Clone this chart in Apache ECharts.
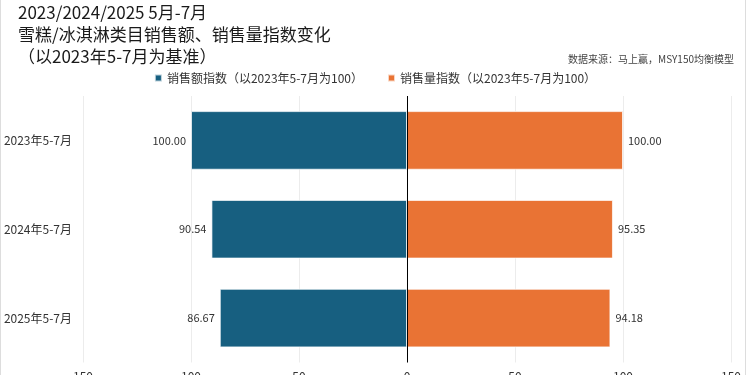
<!DOCTYPE html>
<html><head><meta charset="utf-8">
<script src="https://cdn.jsdelivr.net/npm/echarts@6/dist/echarts.min.js"></script>
<style>html,body{margin:0;padding:0;background:#fff;}#c{width:750px;height:375px;}</style>
</head><body><div id="c"></div>
<script>
const categories = ['2023年5-7月', '2024年5-7月', '2025年5-7月'];
const amountIndex = [100.00, 90.54, 86.67];
const volumeIndex = [100.00, 95.35, 94.18];
const xTicks = { min: -150, max: 150, interval: 50 };
const seriesNames = ['销售额指数（以2023年5-7月为100）', '销售量指数（以2023年5-7月为100）'];

const font = '"Noto Sans CJK SC", sans-serif';
const chart = echarts.init(document.getElementById('c'));
chart.setOption({
  animation: false,
  textStyle: { fontFamily: font },
  title: [
    { text: '2023/2024/2025 5月-7月\n雪糕/冰淇淋类目销售额、销售量指数变化\n（以2023年5-7月为基准）',
      left: 13, top: -4,
      textStyle: { fontSize: 17, fontWeight: 'normal', color: '#1a1a1a', lineHeight: 22.4, fontFamily: font } },
    { text: '数据来源：马上赢，MSY150均衡模型', right: 11, top: 49,
      textStyle: { fontSize: 10, fontWeight: 'normal', color: '#444', fontFamily: font } }
  ],
  legend: {
    top: 67, left: 'center', icon: 'rect', itemWidth: 7, itemHeight: 7, itemGap: 24,
    textStyle: { fontSize: 12, color: '#333', fontFamily: font },
    data: seriesNames
  },
  grid: { left: 83, right: 19, top: 96, bottom: 12.5, containLabel: false, outerBoundsMode: 'none' },
  xAxis: {
    type: 'value', min: xTicks.min, max: xTicks.max, interval: xTicks.interval,
    axisLine: { show: false }, axisTick: { show: false },
    axisLabel: { formatter: v => Math.abs(v), fontSize: 12, color: '#333', margin: 8 },
    splitLine: { lineStyle: { color: '#ececec', width: 1 } }
  },
  yAxis: {
    type: 'category', data: categories, inverse: true,
    axisLine: { show: false }, axisTick: { show: false },
    axisLabel: { fontSize: 12, color: '#333', margin: 11 }
  },
  series: [
    { name: seriesNames[0], type: 'bar', barWidth: '66%', barGap: '-100%',
      data: amountIndex.map(v => -v),
      itemStyle: { color: '#175f80', borderColor: 'rgba(255,255,255,0.7)', borderWidth: 1 },
      label: { show: true, position: 'left', distance: 5, fontSize: 11, color: '#333',
        formatter: p => Math.abs(p.value).toFixed(2) },
      markLine: { silent: true, symbol: 'none', label: { show: false },
        lineStyle: { color: '#000', width: 1, type: 'solid' }, data: [{ xAxis: 0 }] }
    },
    { name: seriesNames[1], type: 'bar', barWidth: '66%', barGap: '-100%',
      data: volumeIndex,
      itemStyle: { color: '#e97334', borderColor: 'rgba(255,255,255,0.7)', borderWidth: 1 },
      label: { show: true, position: 'right', distance: 5, fontSize: 11, color: '#333',
        formatter: p => p.value.toFixed(2) }
    }
  ],
  graphic: [
    { type: 'line', shape: { x1: 0.5, y1: 0, x2: 0.5, y2: 375 }, style: { stroke: '#ddd', lineWidth: 1 } },
    { type: 'line', shape: { x1: 745.5, y1: 0, x2: 745.5, y2: 375 }, style: { stroke: '#ddd', lineWidth: 1 } }
  ]
});
</script></body></html>
